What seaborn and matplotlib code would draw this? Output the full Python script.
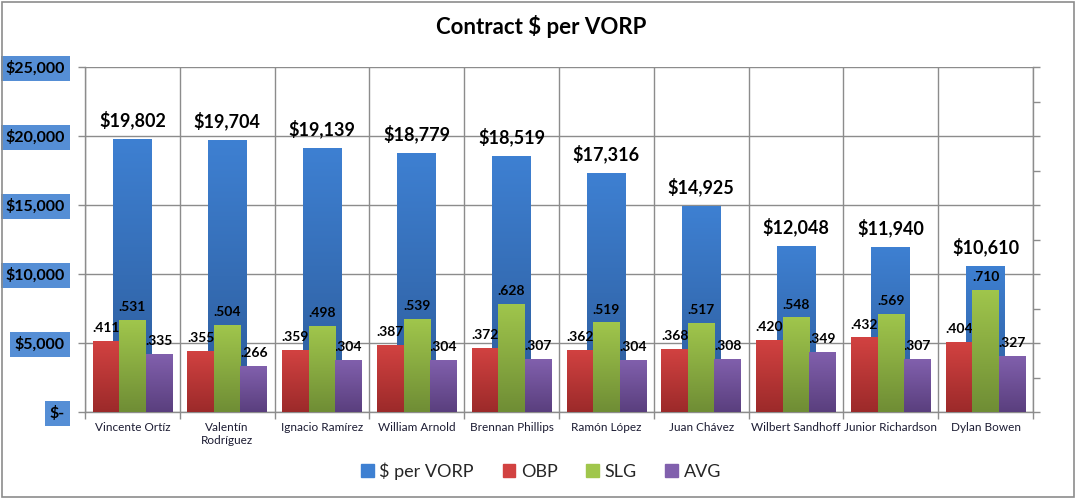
import numpy as np
import pandas as pd
import matplotlib
matplotlib.use("Agg")
import matplotlib.pyplot as plt
import seaborn as sns
from matplotlib.colors import LinearSegmentedColormap
from matplotlib.patches import Rectangle

# ---------------- data ----------------
players = ["Vincente Ortíz", "Valentín\nRodríguez", "Ignacio Ramírez", "William Arnold",
           "Brennan Phillips", "Ramón López", "Juan Chávez", "Wilbert Sandhoff",
           "Junior Richardson", "Dylan Bowen"]
vorp = [19802, 19704, 19139, 18779, 18519, 17316, 14925, 12048, 11940, 10610]
obp = [0.411, 0.355, 0.359, 0.387, 0.372, 0.362, 0.368, 0.420, 0.432, 0.404]
slg = [0.531, 0.504, 0.498, 0.539, 0.628, 0.519, 0.517, 0.548, 0.569, 0.710]
avg = [0.335, 0.266, 0.304, 0.304, 0.307, 0.304, 0.308, 0.349, 0.307, 0.327]
stat_names = ["OBP", "SLG", "AVG"]
series_name = "$ per VORP"
ytick_vals = [0, 5000, 10000, 15000, 20000, 25000]
ytick_labels = ["$-", "$5,000", "$10,000", "$15,000", "$20,000", "$25,000"]
title = "Contract $ per VORP"

# ---------------- style ----------------
blue = ("#3E80D2", "#2C5A98")
stat_cols = {"OBP": ("#D24241", "#9C2A2A"),
             "SLG": ("#A0C64C", "#6F8D35"),
             "AVG": ("#8160AD", "#5A3F7E")}
grid_c = "#8C8C8C"

sns.set_theme(style="white")
plt.rcParams['font.family'] = ['Lato', 'DejaVu Sans']

W, H = 1081, 499
fig = plt.figure(figsize=(W / 100, H / 100), dpi=100)
ax = fig.add_axes([85 / W, (H - 412) / H, (1033 - 85) / W, 345 / H])

df_v = pd.DataFrame({"player": players, "vorp": vorp})
sns.barplot(data=df_v, x="player", y="vorp", color=blue[0], width=0.41,
            errorbar=None, ax=ax, zorder=2, linewidth=0)

ax2 = ax.twinx()
df_s = pd.DataFrame({"player": players * 3,
                     "stat": [s for s in stat_names for _ in players],
                     "value": obp + slg + avg})
sns.barplot(data=df_s, x="player", y="value", hue="stat", hue_order=stat_names,
            palette={k: v[0] for k, v in stat_cols.items()}, width=0.84, gap=0,
            errorbar=None, ax=ax2, zorder=3, linewidth=0, legend=False)


def gradient(axis, patch, top, bottom):
    x0, y0 = patch.get_x(), patch.get_y()
    w, h = patch.get_width(), patch.get_height()
    cmap = LinearSegmentedColormap.from_list("g", [bottom, top])
    im = axis.imshow(np.linspace(0, 1, 128).reshape(-1, 1), cmap=cmap, origin="lower",
                     extent=[x0, x0 + w, y0, y0 + h], aspect="auto",
                     zorder=patch.get_zorder() + 0.1, interpolation="bilinear")
    im.set_clip_path(patch)


for p in ax.containers[0]:
    gradient(ax, p, *blue)
for cont, name in zip(ax2.containers, stat_names):
    for p in cont:
        gradient(ax2, p, *stat_cols[name])

ax.set_xlim(-0.5, len(players) - 0.5)
ax.set_ylim(0, 25000)
ax2.set_ylim(0, 2.0)

# labels
ax.bar_label(ax.containers[0], labels=[f"${v:,}" for v in vorp], padding=7,
             fontsize=13, fontweight="bold", color="black", zorder=6)
for cont, vals in zip(ax2.containers, [obp, slg, avg]):
    ax2.bar_label(cont, labels=[f"{v:.3f}"[1:] for v in vals], padding=5,
                  fontsize=10, fontweight="bold", color="black")

# axes styling
ax.set_xlabel("")
ax.set_ylabel("")
ax2.set_xlabel("")
ax2.set_ylabel("")
ax.set_yticks(ytick_vals)
ax.set_yticklabels(ytick_labels, fontsize=11.5, fontweight="bold", color="black")
for lab in ax.get_yticklabels():
    lab.set_bbox(dict(facecolor="#558ED5", edgecolor="none", pad=3.5))
ax.tick_params(axis="y", length=5, width=1, color=grid_c, pad=9.5, left=True)
ax.set_xticks(range(len(players)))
ax.set_xticklabels(players, fontsize=8.5, color="#1C1C33")
ax.set_xticks(np.arange(-0.5, len(players), 1), minor=True)
ax.tick_params(axis="x", which="major", length=0, pad=7)
ax.tick_params(axis="x", which="minor", length=5, width=1, color=grid_c, bottom=True)
ax.yaxis.grid(True, color=grid_c, lw=1)
ax.xaxis.grid(True, which="minor", color=grid_c, lw=1)
ax.xaxis.grid(False, which="major")
ax.set_axisbelow(True)
for s in ["top", "right"]:
    ax.spines[s].set_visible(False)
for s in ["left", "bottom"]:
    ax.spines[s].set_color(grid_c)
    ax.spines[s].set_linewidth(1)

ax2.set_yticks(np.arange(0, 2.01, 0.2))
ax2.tick_params(axis="y", length=5, width=1, color=grid_c, labelright=False, right=True)
for s in ["top", "left", "bottom"]:
    ax2.spines[s].set_visible(False)
ax2.spines["right"].set_color(grid_c)
ax2.spines["right"].set_linewidth(1)
ax2.grid(False)

# title
fig.text(541 / W, 1 - 26 / H, title, ha="center", va="center", fontsize=16,
         fontweight="bold", color="black")

# legend
handles = [Rectangle((0, 0), 1, 1, color=blue[0])] + \
          [Rectangle((0, 0), 1, 1, color=stat_cols[n][0]) for n in stat_names]
fig.legend(handles, [series_name] + stat_names, loc="center",
           bbox_to_anchor=(541 / W, 1 - 471 / H), ncol=4, frameon=False,
           fontsize=13, handlelength=0.7, handleheight=0.7, handletextpad=0.3,
           columnspacing=1.6)

# outer chart border
fig.patches.append(Rectangle((2 / W, 2 / H), (1074 - 2) / W, (H - 4) / H,
                             transform=fig.transFigure, fill=False,
                             edgecolor=grid_c, lw=1.2))

fig.savefig("out.png", dpi=100)
